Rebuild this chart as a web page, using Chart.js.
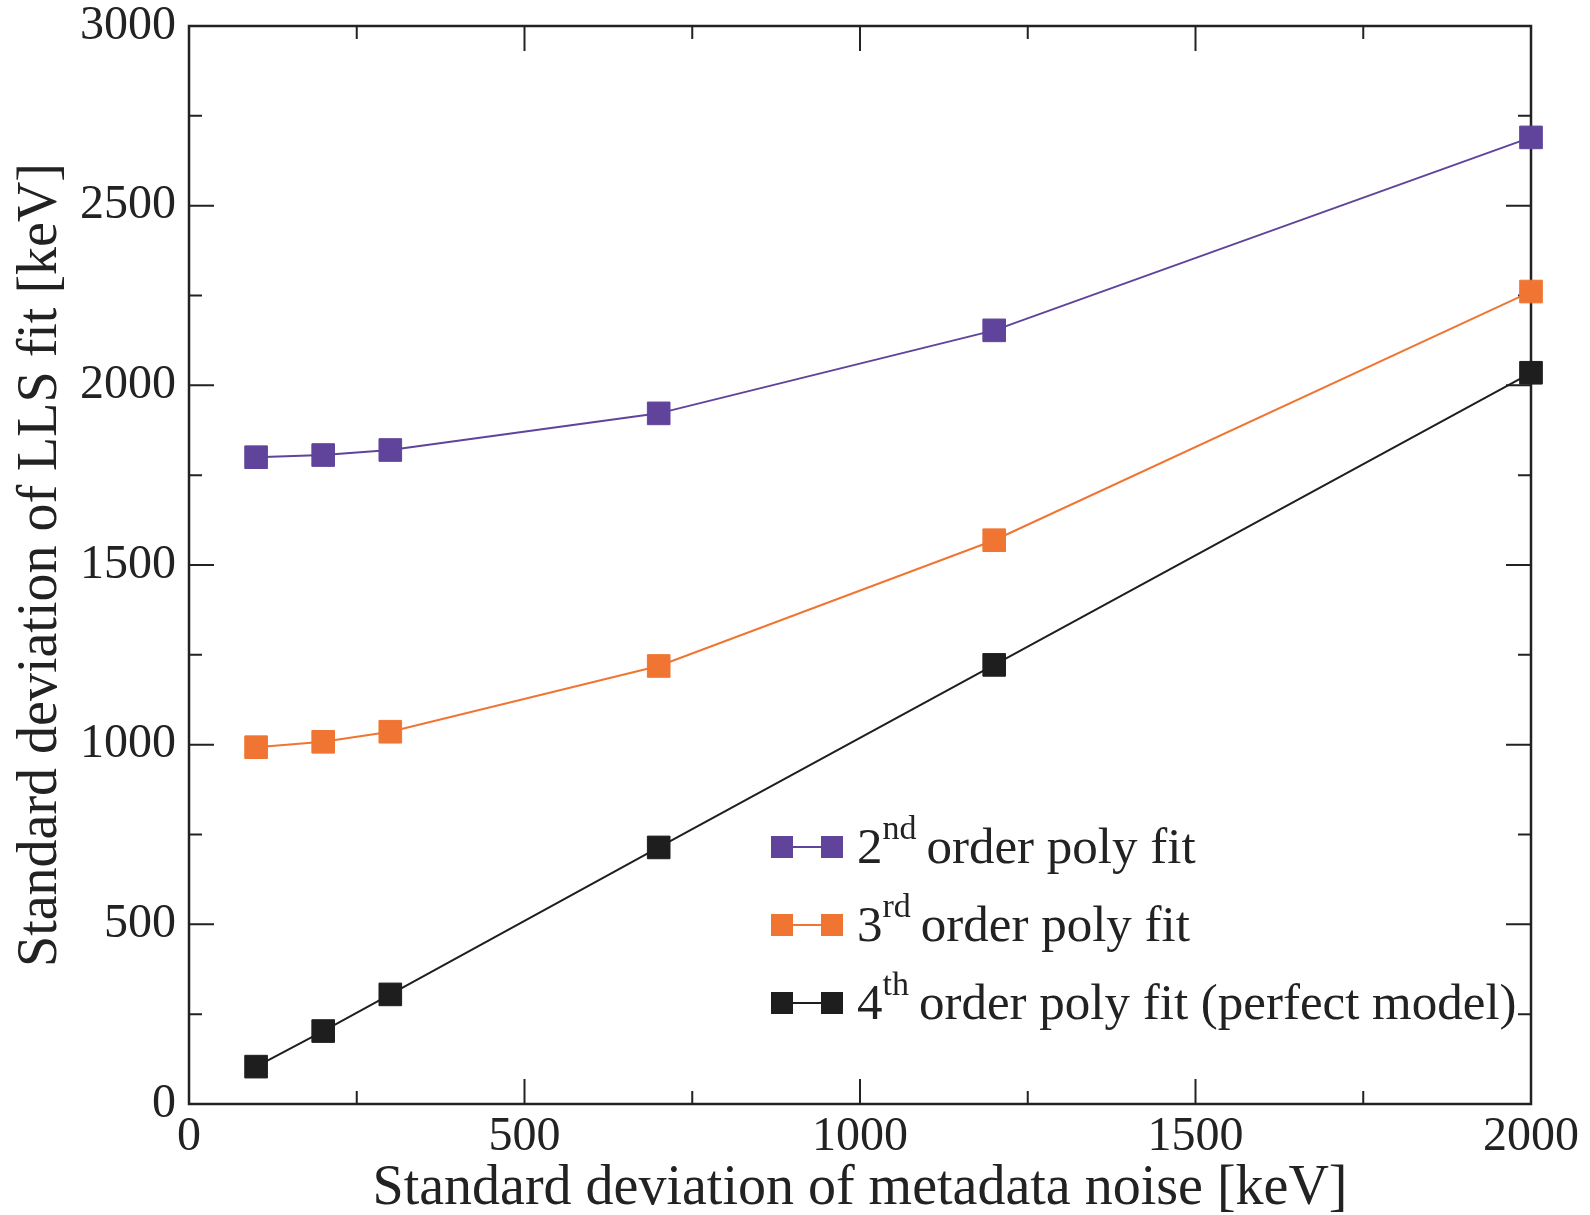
<!DOCTYPE html>
<html>
<head>
<meta charset="utf-8">
<script src="https://cdn.jsdelivr.net/npm/chart.js@4.4.0/dist/chart.umd.min.js"></script>
<style>
  body { margin: 0; background: #fff; }
  #wrap { position: relative; width: 1590px; height: 1215px; }
  #legend { position: absolute; left: 771px; top: 808px; font-family: "Liberation Serif", serif; font-size: 51px; color: #222; }
  .row { height: 78px; display: flex; align-items: center; white-space: nowrap; }
  .sym { position: relative; width: 72px; height: 22px; margin-right: 14px; flex: none; }
  .sym span { position: absolute; top: 0; width: 22px; height: 22px; }
  .sym i { position: absolute; left: 11px; right: 11px; top: 10px; height: 2px; }
  .txt { display: block; line-height: 1.2; }
  .txt sup { font-size: 34px; position: relative; top: -6px; vertical-align: super; line-height: 0; margin-right: 10px; }
</style>
</head>
<body>
<div id="wrap">
  <canvas id="mychart" width="1590" height="1215"></canvas>
  <div id="legend"></div>
</div>
<script>
var noise = [100, 200, 300, 700, 1200, 2000]
var fit2nd = [1800, 1806, 1820, 1922, 2153, 2690]
var fit3rd = [993, 1008, 1036, 1219, 1569, 2261]
var fit4th = [104, 203, 305, 714, 1222, 2035]
var xTicks = [0, 500, 1000, 1500, 2000]
var yTicks = [0, 500, 1000, 1500, 2000, 2500, 3000]

var colors = ["#60449b", "#f07533", "#1e1e1e"]
var legendItems = [
  ["2", "nd", "order poly fit"],
  ["3", "rd", "order poly fit"],
  ["4", "th", "order poly fit (perfect model)"]
]

function pts(ys) {
  return noise.map(function(x, i) { return { x: x, y: ys[i] } })
}

function ds(label, ys, c) {
  return {
    label: label, data: pts(ys),
    borderColor: c, backgroundColor: c,
    borderWidth: 2, pointStyle: 'rect', pointRadius: 16,
    pointBorderWidth: 1, pointBorderColor: c, pointHoverRadius: 16,
    clip: false
  }
}

// box + inward ticks on all four sides
var frame = {
  id: 'frame',
  beforeDatasetsDraw: function(chart) {
    var ctx = chart.ctx, a = chart.chartArea
    var xs = chart.scales.x, ys = chart.scales.y
    ctx.save()
    ctx.strokeStyle = "#222"
    ctx.lineWidth = 2.5
    ctx.strokeRect(a.left, a.top, a.right - a.left, a.bottom - a.top)
    ctx.lineWidth = 2
    ctx.beginPath()
    for (var v = 250; v < 2000; v += 250) {
      var len = v % 500 == 0 ? 25 : 13
      var px = xs.getPixelForValue(v)
      ctx.moveTo(px, a.bottom); ctx.lineTo(px, a.bottom - len)
      ctx.moveTo(px, a.top); ctx.lineTo(px, a.top + len)
    }
    for (var w = 250; w < 3000; w += 250) {
      var l2 = w % 500 == 0 ? 25 : 13
      var py = ys.getPixelForValue(w)
      ctx.moveTo(a.left, py); ctx.lineTo(a.left + l2, py)
      ctx.moveTo(a.right, py); ctx.lineTo(a.right - l2, py)
    }
    ctx.stroke()
    ctx.restore()
  }
}

var font = { family: "Liberation Serif", size: 48 }
var titleFont = { family: "Liberation Serif", size: 56 }

function noPad(s) {
  s.paddingTop = 0; s.paddingBottom = 0; s.paddingLeft = 0; s.paddingRight = 0
}

var chart = new Chart(document.getElementById("mychart").getContext('2d'), {
  type: 'line',
  data: {
    datasets: [
      ds("2nd order poly fit", fit2nd, colors[0]),
      ds("3rd order poly fit", fit3rd, colors[1]),
      ds("4th order poly fit (perfect model)", fit4th, colors[2])
    ]
  },
  options: {
    responsive: false,
    animation: false,
    layout: { padding: { top: 26, right: 59, left: 0, bottom: 0 } },
    plugins: { legend: { display: false }, tooltip: { enabled: false } },
    scales: {
      x: {
        type: 'linear', min: 0, max: 2000,
        afterBuildTicks: function(s) { s.ticks = xTicks.map(function(v) { return { value: v } }) },
        grid: { display: false }, border: { display: false },
        ticks: { font: font, color: "#222", padding: -3, maxRotation: 0, callback: function(v) { return String(v) } },
        title: { display: true, text: "Standard deviation of metadata noise [keV]", font: titleFont, color: "#222", padding: { top: 0, bottom: -8 } },
        afterFit: function(s) { s.height = 111; noPad(s) }
      },
      y: {
        type: 'linear', min: 0, max: 3000,
        afterBuildTicks: function(s) { s.ticks = yTicks.map(function(v) { return { value: v } }) },
        grid: { display: false }, border: { display: false },
        ticks: { font: font, color: "#222", padding: 5, callback: function(v) { return String(v) } },
        title: { display: true, text: "Standard deviation of LLS fit [keV]", font: titleFont, color: "#222", padding: { top: 8 } },
        afterFit: function(s) { s.width = 189; noPad(s) }
      }
    }
  },
  plugins: [frame]
})

var lg = document.getElementById("legend")
legendItems.forEach(function(it, i) {
  var row = document.createElement("div")
  row.className = "row"
  row.innerHTML = '<div class="sym"><span style="left:0;background:' + colors[i] + '"></span><i style="background:' + colors[i] + '"></i><span style="right:0;background:' + colors[i] + '"></span></div>' +
    '<span class="txt">' + it[0] + '<sup>' + it[1] + '</sup>' + it[2] + '</span>'
  lg.appendChild(row)
})
</script>
</body>
</html>
